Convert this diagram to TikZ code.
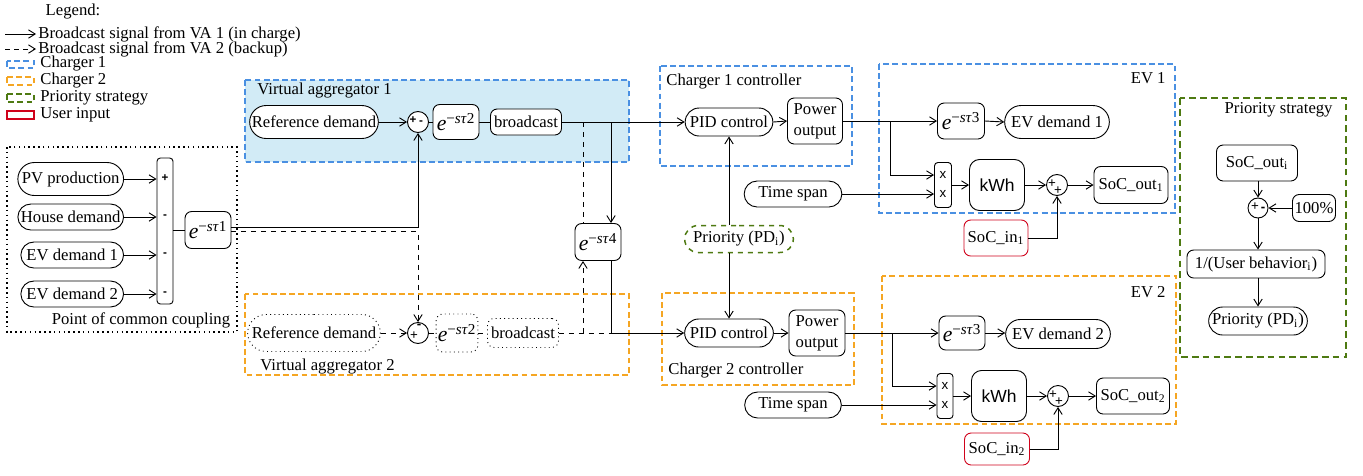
\documentclass[tikz,border=0pt]{standalone}
\usepackage{fontspec}
\setmainfont{Liberation Serif}
\newfontfamily\sansf{Liberation Sans}
\usetikzlibrary{arrows.meta,shapes.misc,shapes.geometric}
\definecolor{cblue}{RGB}{74,144,226}
\definecolor{cfill}{RGB}{210,235,246}
\definecolor{corange}{RGB}{245,166,35}
\definecolor{cgreen}{RGB}{78,122,18}
\definecolor{cred}{RGB}{208,2,27}
\newcommand\edel[1]{{\fontsize{13}{13}\selectfont\textit{e}\textsuperscript{−\textit{sτ}#1}}}
\begin{document}
\begin{tikzpicture}[x=0.6pt,y=-0.6pt,line width=0.55pt,
  font=\fontsize{10}{12.5}\selectfont,
  >={Straight Barb[length=4pt,width=5pt]},
  wh/.style 2 args={minimum width=#1*0.6pt,minimum height=#2*0.6pt},
  pill/.style={draw,fill=white,rounded rectangle,inner sep=1pt},
  rbox/.style={draw,fill=white,rectangle,rounded corners=4pt,inner sep=1pt,align=center},
  sumc/.style={draw,fill=white,circle,inner sep=0pt,minimum size=12.6pt},
  sgn/.style={font=\sansf\bfseries\fontsize{7}{7}\selectfont,inner sep=0pt},
  sgnt/.style={font=\sansf\fontsize{8}{8}\selectfont,inner sep=0pt},
  region/.style={dash pattern=on 3.5pt off 2pt,line width=0.8pt},
  lbl/.style={inner sep=0pt}
]
\useasboundingbox (0,0) rectangle (1363,475);

% ---------------- legend
\node[lbl] (leg) at (73,12) {Legend:};
\coordinate (la1) at (5,34); \coordinate (la2) at (36,34);
\draw[->] (la1) -- (la2);
\node[lbl,anchor=west] (lt1) at (38,34) {Broadcast signal from VA 1 (in charge)};
\coordinate (lb1) at (5,49); \coordinate (lb2) at (36,49);
\draw[->,dash pattern=on 3pt off 2.5pt] (lb1) -- (lb2);
\node[lbl,anchor=west] (lt2) at (38,49) {Broadcast signal from VA 2 (backup)};
\draw[region,draw=cblue] (7,61) rectangle (34,68);
\node[lbl,anchor=west] (lt3) at (40,64) {Charger 1};
\draw[region,draw=corange] (7,77) rectangle (34,85);
\node[lbl,anchor=west] (lt4) at (40,81) {Charger 2};
\draw[region,draw=cgreen,line width=1.4pt] (7,94) rectangle (34,102);
\node[lbl,anchor=west] (lt5) at (40,98) {Priority strategy};
\draw[draw=cred,line width=1pt] (7,111) rectangle (34,119);
\node[lbl,anchor=west] (lt6) at (40,115) {User input};

% ---------------- regions
\draw[region,draw=cblue,fill=cfill] (245,80) rectangle (629,162);
\node[lbl,anchor=west] (tva1) at (257,91) {Virtual aggregator 1};
\draw[region,draw=corange] (245,294) rectangle (629,375);
\node[lbl,anchor=west] (tva2) at (260,367) {Virtual aggregator 2};
\draw[dotted,line width=0.9pt] (7,147) rectangle (237,332);
\node[lbl] (tpcc) at (141,320) {Point of common coupling};
\draw[region,draw=cblue] (660,66) rectangle (852,166);
\node[lbl,anchor=west] (tc1) at (666,82) {Charger 1 controller};
\draw[region,draw=corange] (662,293) rectangle (854,385);
\node[lbl,anchor=west] (tc2) at (668,371) {Charger 2 controller};
\draw[region,draw=cblue] (879,64) rectangle (1175,213);
\node[lbl,anchor=east] (tev1) at (1166,78) {EV 1};
\draw[region,draw=corange] (882,276) rectangle (1176,424);
\node[lbl,anchor=east] (tev2) at (1166,292) {EV 2};
\draw[draw=cgreen,line width=1.6pt,dash pattern=on 4pt off 2.5pt] (1180,98) rectangle (1346,357);
\node[lbl,anchor=east] (tps) at (1333,110) {Priority strategy};

% ---------------- PCC
\node[pill,wh={109}{33},anchor=east] (pv) at (124,179) {PV production};
\node[pill,wh={104}{26},anchor=east] (hd) at (124,217) {House demand};
\node[pill,wh={106}{26},anchor=east] (ev1i) at (124,255) {EV demand 1};
\node[pill,wh={106}{26},anchor=east] (ev2i) at (124,294) {EV demand 2};
\node[draw,rounded corners=2pt,wh={16}{146},inner sep=0pt] (bar) at (165,231) {};
\node[sgn] (bp) at (165,178) {+};
\node[sgn] (bm1) at (165,217) {-};
\node[sgn] (bm2) at (165,255) {-};
\node[sgn] (bm3) at (165,294) {-};
\node[rbox,wh={46}{37}] (e1) at (208,230) {\edel{1}};
\draw[->] (pv.east) -- (pv.east -| bar.west);
\draw[->] (hd.east) -- (hd.east -| bar.west);
\draw[->] (ev1i.east) -- (ev1i.east -| bar.west);
\draw[->] (ev2i.east) -- (ev2i.east -| bar.west);
\draw (bar.east |- e1.west) -- (e1.west);

% ---------------- VA1
\node[pill,wh={132}{33}] (ref1) at (314,122) {Reference demand};
\node[sumc] (sum1) at (418,122) {};
\node[sgn] (s1p) at (413,120) {+};
\node[sgn] (s1m) at (421,123) {-};
\node[rbox,wh={46}{35}] (d2a) at (456,122) {\edel{2}};
\node[rbox,wh={71}{26}] (bc1) at (526,122) {broadcast};
\draw[->] (ref1.east) -- (sum1.west);
\draw (sum1.east) -- (d2a.west);
\draw (d2a.east) -- (bc1.west);

% ---------------- VA2
\node[pill,dotted,wh={136}{37}] (ref2) at (314,333) {Reference demand};
\node[sumc] (sum2) at (418,333) {};
\node[sgnt] (s2m) at (419,326) {\textbf{-}};
\node[sgnt] (s2p) at (414,336) {+};
\node[rbox,dotted,wh={41}{38}] (d2b) at (457,333) {\edel{2}};
\node[rbox,dotted,wh={71}{29}] (bc2) at (523,333) {broadcast};
\draw[->,dashed] (ref2.east) -- (sum2.west);
\draw[dashed] (sum2.east) -- (d2b.west);
\draw[dashed] (d2b.east) -- (bc2.west);

% e1 outputs
\draw[->] ([yshift=1.5pt]e1.east) -| (sum1.south);
\draw[->,dashed] ([yshift=-0.9pt]e1.east) -| (sum2.north);

% ---------------- tau4
\node[rbox,wh={46}{37}] (e4) at (598,242) {\edel{4}};
\coordinate (j1) at (611,122);
\coordinate (j2) at (583,122);
\coordinate (j3) at (611,333);
\coordinate (j4) at (583,333);

% ---------------- chargers
\node[pill,wh={91}{28}] (pid1) at (729,122) {PID control};
\node[rbox,wh={55}{46}] (po1) at (815,121) {Power\\output};
\node[pill,wh={92}{28}] (pid2) at (729,333) {PID control};
\node[rbox,wh={56}{46}] (po2) at (817,333) {Power\\output};
\node[pill,wh={101}{26}] (ts1) at (793,194) {Time span};
\node[pill,wh={100}{26}] (ts2) at (793,405) {Time span};
\node[draw=cgreen,dashed,line width=0.9pt,rounded rectangle,inner sep=1pt,wh={112}{27}] (prio) at (739,239) {Priority (PD\textsubscript{i})};

\draw[->] (bc1.east) -- (pid1.west);
\draw[->] (j1) -- (j1 |- e4.north);
\draw[->] (j1 |- e4.south) -- (j3) -- (pid2.west);
\draw[dashed] (bc2.east) -- (j3);
\draw[dashed] (j2) -- (j2 |- e4.north);
\draw[->,dashed] (j4) -- (j4 |- e4.south);
\draw[->] (pid1.east) -- (po1.west);
\draw[->] (pid2.east) -- (po2.west);
\draw[->] (prio.north -| pid1.south) -- (pid1.south);
\draw[->] (prio.south -| pid2.north) -- (pid2.north);

% ---------------- EV 1
\node[rbox,wh={47}{36}] (d3a) at (961,121) {\edel{3}};
\node[pill,wh={108}{33}] (evd1) at (1057,122) {EV demand 1};
\node[draw,rounded corners=2pt,wh={17}{45},inner sep=0pt] (mx1) at (943,185) {};
\node[sgnt] (mx1a) at (943,175) {x};
\node[sgnt] (mx1b) at (943,194) {x};
\node[draw,rounded corners=6pt,wh={55}{51},font=\sansf\fontsize{10.5}{12}\selectfont] (kwh1) at (997,185) {kWh};
\node[sumc] (s1) at (1057,185) {};
\node[sgnt] (s1a) at (1052,184) {+};
\node[sgnt] (s1b) at (1058,191) {+};
\node[rbox,wh={74}{37}] (so1) at (1131,185) {SoC\_out\textsubscript{1}};
\node[draw=cred,rounded corners=4pt,wh={64}{36},inner sep=1pt] (si1) at (996,238) {SoC\_in\textsubscript{1}};
\coordinate (k1) at (890,121);
\draw[->] (po1.east) -- (d3a.west);
\draw[->] (d3a.east) -- (evd1.west);
\draw[->] (k1) |- ([yshift=6pt]mx1.west);
\draw[->] (ts1.east) -- (ts1.east -| mx1.west);
\draw[->] (mx1.east) -- (kwh1.west);
\draw[->] (kwh1.east) -- (s1.west);
\draw[->] (s1.east) -- (so1.west);
\draw[->] (si1.east) -| (s1.south);

% ---------------- EV 2
\node[rbox,wh={46}{34}] (d3b) at (962,333) {\edel{3}};
\node[pill,wh={108}{29}] (evd2) at (1058,334) {EV demand 2};
\node[draw,rounded corners=2pt,wh={16}{45},inner sep=0pt] (mx2) at (945,396) {};
\node[sgnt] (mx2a) at (945,386) {x};
\node[sgnt] (mx2b) at (945,405) {x};
\node[draw,rounded corners=6pt,wh={55}{51},font=\sansf\fontsize{10.5}{12}\selectfont] (kwh2) at (999,396) {kWh};
\node[sumc] (s2) at (1058,396) {};
\node[sgnt] (s2a) at (1053,395) {+};
\node[sgnt] (s2b) at (1059,402) {+};
\node[rbox,wh={73}{36}] (so2) at (1133,396) {SoC\_out\textsubscript{2}};
\node[draw=cred,rounded corners=4pt,wh={65}{32},inner sep=1pt] (si2) at (997,449) {SoC\_in\textsubscript{2}};
\coordinate (k2) at (892,333);
\draw[->] (po2.east) -- (d3b.west);
\draw[->] (d3b.east) -- (d3b.east -| evd2.west);
\draw[->] (k2) |- ([yshift=6pt]mx2.west);
\draw[->] (ts2.east) -- (ts2.east -| mx2.west);
\draw[->] (mx2.east) -- (kwh2.west);
\draw[->] (kwh2.east) -- (s2.west);
\draw[->] (s2.east) -- (so2.west);
\draw[->] (si2.east) -| (s2.south);

% ---------------- priority strategy
\node[rbox,wh={81}{36}] (soi) at (1257,163) {SoC\_out\textsubscript{i}};
\node[sumc,minimum size=12pt] (sp) at (1258,208) {};
\node[sgnt] (spp) at (1255,207) {+};
\node[sgnt] (spm) at (1263,209) {\textbf{-}};
\node[rbox,wh={43}{27}] (p100) at (1314,208) {100\%};
\node[rbox,wh={138}{28}] (ub) at (1256,264) {1/(User behavior\textsubscript{i})};
\node[pill,wh={102}{28}] (pdi) at (1258,321) {Priority (PD\textsubscript{i})};
\draw[->] (soi.south -| sp.north) -- (sp.north);
\draw[->] (p100.west) -- (sp.east);
\draw[->] (sp.south) -- (sp.south |- ub.north);
\draw[->] (ub.south -| pdi.north) -- (pdi.north);
\end{tikzpicture}
\end{document}
